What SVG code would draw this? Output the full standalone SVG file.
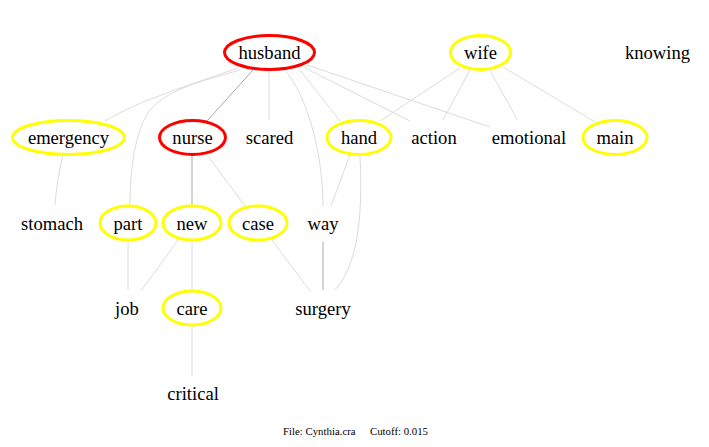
<svg xmlns="http://www.w3.org/2000/svg" width="709" height="447" viewBox="0 0 709 447">
<style>
.e{fill:none;stroke:#dcdcdc;stroke-width:1}
.d{fill:none;stroke:#a8a8a8;stroke-width:1}
.r{fill:none;stroke:#ff0000;stroke-width:3}
.y{fill:none;stroke:#ffff00;stroke-width:3}
text{font-family:'Liberation Serif',serif;font-size:18.6px;fill:#000;text-anchor:middle}
.f{font-size:10.8px;text-anchor:start}
</style>
<rect width="709" height="447" fill="#fff"/>
<g id="connectors">
<path class="e" d="M238,68 C190,85 140,100 105,121"/>
<path class="e" d="M240,70 C200,82 170,88 150,110 C135,130 130,170 130,206"/>
<path class="d" d="M253,70 L207,121"/>
<path class="e" d="M269,70 L269,120"/>
<path class="e" d="M285,70 C310,100 323,160 323,206"/>
<path class="e" d="M300,70 L340,121"/>
<path class="e" d="M305,68 L410,121"/>
<path class="e" d="M307,65 L490,127"/>
<path class="e" d="M460,68 L380,121"/>
<path class="e" d="M470,70 L443,120"/>
<path class="e" d="M490,70 C500,90 510,105 517,120"/>
<path class="e" d="M503,67 L595,122"/>
<path class="e" d="M63,155 C59,170 56,190 55,205"/>
<path class="d" d="M192,155 L192,206"/>
<path class="e" d="M207,155 L245,206"/>
<path class="e" d="M350,155 L331,206"/>
<path class="e" d="M360,155 C362,200 362,260 335,290"/>
<path class="e" d="M128,241 L128,290"/>
<path class="e" d="M178,240 L141,291"/>
<path class="e" d="M192,241 L192,291"/>
<path class="e" d="M272,240 L310,291"/>
<path class="d" d="M323,242 L323,290"/>
<path class="e" d="M192,326 L192,376"/>
</g>
<g id="husband"><ellipse class="r" cx="269.5" cy="52.5" rx="45" ry="17"/><text x="269.5" y="59">husband</text></g>
<g id="wife"><ellipse class="y" cx="480.5" cy="52.5" rx="30" ry="17"/><text x="480.5" y="59">wife</text></g>
<g id="knowing"><text x="657.5" y="59">knowing</text></g>
<g id="emergency"><ellipse class="y" cx="68.5" cy="137.5" rx="56" ry="17"/><text x="68.5" y="144">emergency</text></g>
<g id="nurse"><ellipse class="r" cx="192.5" cy="137.5" rx="33" ry="17"/><text x="192.5" y="144">nurse</text></g>
<g id="scared"><text x="269.5" y="144">scared</text></g>
<g id="hand"><ellipse class="y" cx="359" cy="137.5" rx="32" ry="17"/><text x="359" y="144">hand</text></g>
<g id="action"><text x="434" y="144">action</text></g>
<g id="emotional"><text x="529" y="144">emotional</text></g>
<g id="main"><ellipse class="y" cx="615" cy="137.5" rx="32" ry="17"/><text x="615" y="144">main</text></g>
<g id="stomach"><text x="52" y="230">stomach</text></g>
<g id="part"><ellipse class="y" cx="128" cy="223" rx="28" ry="17"/><text x="128" y="229.5">part</text></g>
<g id="new"><ellipse class="y" cx="192" cy="223" rx="29" ry="17"/><text x="192" y="229.5">new</text></g>
<g id="case"><ellipse class="y" cx="258" cy="223" rx="29" ry="17"/><text x="258" y="229.5">case</text></g>
<g id="way"><text x="323" y="229.5">way</text></g>
<g id="job"><text x="127" y="315">job</text></g>
<g id="care"><ellipse class="y" cx="192" cy="308" rx="29" ry="17"/><text x="192" y="315">care</text></g>
<g id="surgery"><text x="323" y="315">surgery</text></g>
<g id="critical"><text x="193" y="400">critical</text></g>
<text class="f" x="283" y="435">File: Cynthia.cra</text>
<text class="f" x="370" y="435">Cutoff: 0.015</text>
</svg>
